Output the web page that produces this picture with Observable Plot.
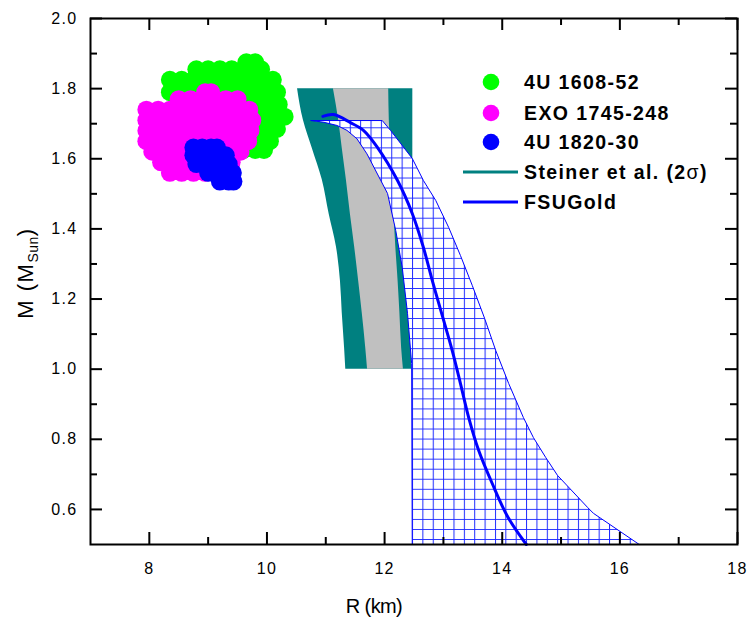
<!DOCTYPE html>
<html><head><meta charset="utf-8">
<script src="https://cdn.jsdelivr.net/npm/d3@7"></script>
<script src="https://cdn.jsdelivr.net/npm/@observablehq/plot@0.6"></script>
<style>
html,body{margin:0;padding:0;background:#fff;}
#chart svg{display:block;}
#chart svg text{letter-spacing:1.3px;}
</style></head><body><div id="chart"></div>
<script>
// ---- axis ticks ----
const xTicks = [8, 10, 12, 14, 16, 18];
const xMinor = [9, 11, 13, 15, 17];
const yTicks = [0.6, 0.8, 1.0, 1.2, 1.4, 1.6, 1.8, 2.0];
const yMinor = [0.7, 0.9, 1.1, 1.3, 1.5, 1.7, 1.9];

// ---- observed sources (rows of point centers: M, list of R) ----
const src1608Rows = [
  {M: 1.875, R: [9.65, 9.8]},
  {M: 1.855, R: [8.8, 9.0, 9.2, 9.4, 9.6, 9.8, 9.9]},
  {M: 1.825, R: [8.35, 8.55, 8.75, 8.95, 9.15, 9.35, 9.55, 9.75, 9.95, 10.1]},
  {M: 1.79,  R: [8.35, 8.55, 8.75, 8.95, 9.15, 9.35, 9.55, 9.75, 9.95, 10.17]},
  {M: 1.755, R: [9.0, 9.2, 9.4, 9.6, 9.8, 10.0, 10.2]},
  {M: 1.72,  R: [9.4, 9.6, 9.8, 10.0, 10.2, 10.3]},
  {M: 1.685, R: [9.5, 9.7, 9.9, 10.05, 10.17]},
  {M: 1.65,  R: [9.5, 9.7, 9.9, 10.05]},
  {M: 1.625, R: [9.6, 9.8, 9.95]}
];
const src1745Rows = [
  {M: 1.79, R: [8.95, 9.05]},
  {M: 1.77, R: [8.5, 8.7, 8.9, 9.1, 9.3, 9.5]},
  {M: 1.74, R: [7.95, 8.15, 8.35, 8.55, 8.75, 8.95, 9.15, 9.35, 9.55, 9.7]},
  {M: 1.71, R: [7.95, 8.15, 8.35, 8.55, 8.75, 8.95, 9.15, 9.35, 9.55, 9.75]},
  {M: 1.68, R: [7.95, 8.15, 8.35, 8.55, 8.75, 8.95, 9.15, 9.35, 9.55, 9.72]},
  {M: 1.65, R: [7.95, 8.15, 8.35, 8.55, 8.75, 8.95, 9.15, 9.35, 9.55, 9.68]},
  {M: 1.62, R: [8.05, 8.25, 8.45, 8.65, 8.85, 9.05, 9.25, 9.45, 9.55]},
  {M: 1.59, R: [8.2, 8.4, 8.6, 8.8, 9.0, 9.2, 9.4]},
  {M: 1.56, R: [8.35, 8.55, 8.75, 8.95]}
];
const src1820Rows = [
  {M: 1.632, R: [8.75, 8.9, 9.05, 9.15]},
  {M: 1.61,  R: [8.75, 8.9, 9.05, 9.2, 9.3]},
  {M: 1.585, R: [8.8, 8.95, 9.1, 9.25, 9.35]},
  {M: 1.56,  R: [9.0, 9.15, 9.3, 9.42]},
  {M: 1.535, R: [9.2, 9.35, 9.43]}
];

// ---- Steiner et al. band (2 sigma outer, inner gray) ----
const steinerM      = [1.8, 1.71, 1.63, 1.54, 1.44, 1.35, 1.25, 1.16, 1.06, 1.0];
const steinerOuterL = [10.52, 10.62, 10.77, 10.94, 11.06, 11.18, 11.25, 11.28, 11.32, 11.34];
const steinerOuterR = [12.48, 12.48, 12.48, 12.48, 12.47, 12.47, 12.47, 12.46, 12.46, 12.46];
const steinerInnerL = [11.13, 11.22, 11.28, 11.35, 11.42, 11.49, 11.56, 11.62, 11.68, 11.71];
const steinerInnerR = [12.07, 12.08, 12.10, 12.12, 12.16, 12.19, 12.23, 12.26, 12.29, 12.32];

// ---- FSUGold uncertainty region (outline) ----
const bandRightR = [10.75, 11.96, 12.10, 12.47, 12.66, 12.87, 13.09, 13.29, 13.49, 13.70, 13.89, 14.11, 14.36, 14.53, 14.74, 14.94, 15.45, 15.55, 16.33];
const bandRightM = [1.709, 1.709, 1.681, 1.601, 1.538, 1.481, 1.404, 1.324, 1.239, 1.145, 1.053, 0.959, 0.862, 0.805, 0.748, 0.697, 0.606, 0.589, 0.5];
const bandLeftR  = [12.47, 12.46, 12.39, 12.30, 12.19, 12.05, 11.70, 11.53, 11.36, 11.19, 10.97, 10.75];
const bandLeftM  = [0.5, 1.016, 1.159, 1.290, 1.395, 1.501, 1.614, 1.657, 1.681, 1.695, 1.704, 1.709];

// ---- FSUGold mass-radius curve ----
const fsuR = [10.95, 11.13, 11.42, 11.64, 11.88, 12.22, 12.47, 12.66, 12.81, 12.97, 13.15, 13.29, 13.43, 13.60, 13.83, 14.10, 14.41];
const fsuM = [1.721, 1.726, 1.703, 1.681, 1.632, 1.538, 1.444, 1.347, 1.253, 1.159, 1.053, 0.959, 0.862, 0.768, 0.674, 0.577, 0.5];

// ---- legend ----
const legendDots = [
  {label: "4U 1608-52", color: "#00ff00"},
  {label: "EXO 1745-248", color: "#ff00ff"},
  {label: "4U 1820-30", color: "#0000ff"}
];
const legendLines = [
  {label: "Steiner et al. (2", sym: "σ", tail: ")", color: "#008080"},
  {label: "FSUGold", sym: "", tail: "", color: "#0000ff"}
];

// ---- build tables ----
const rowsToPts = rows => rows.flatMap(r => r.R.map(R => ({R, M: r.M})));
const pts1608 = rowsToPts(src1608Rows);
const pts1745 = rowsToPts(src1745Rows);
const pts1820 = rowsToPts(src1820Rows);
const steiner = steinerM.map((M, i) => ({M, oL: steinerOuterL[i], oR: steinerOuterR[i], iL: steinerInnerL[i], iR: steinerInnerR[i]}));
const bandPoly = bandRightR.map((R, i) => ({R, M: bandRightM[i]}))
  .concat(bandLeftR.map((R, i) => ({R, M: bandLeftM[i]})));
const fsu = fsuR.map((R, i) => ({R, M: fsuM[i]}));

const W = 750, H = 620, mL = 90, mR = 13, mT = 18, mB = 76;
const pw = W - mL - mR, ph = H - mT - mB;
const font = "'Liberation Sans', Arial, Helvetica, sans-serif";

const svg = Plot.plot({
  width: W, height: H,
  marginLeft: mL, marginRight: mR, marginTop: mT, marginBottom: mB,
  style: {fontFamily: font, background: "#fff", color: "#000"},
  x: {domain: [7, 18], axis: null},
  y: {domain: [0.5, 2.0], axis: null},
  marks: [
    Plot.dot(pts1608, {x: "R", y: "M", r: 9, fill: "#00ff00", stroke: "none"}),
    Plot.dot(pts1745, {x: "R", y: "M", r: 9, fill: "#ff00ff", stroke: "none"}),
    Plot.dot(pts1820, {x: "R", y: "M", r: 9, fill: "#0000ff", stroke: "none"}),
    Plot.areaX(steiner, {y: "M", x1: "oL", x2: "oR", fill: "#008080", curve: "monotone-y"}),
    Plot.areaX(steiner, {y: "M", x1: "iL", x2: "iR", fill: "#c0c0c0", curve: "monotone-y"}),
    Plot.line(bandPoly, {x: "R", y: "M", fill: "url(#fsuGrid)", stroke: "#0000ff", strokeWidth: 1, curve: "linear-closed"}),
    Plot.line(fsu, {x: "R", y: "M", stroke: "#0000ff", strokeWidth: 3, curve: "catmull-rom"}),
    Plot.frame({stroke: "#000", strokeWidth: 2}),
    // inward ticks, bottom & top
    Plot.tickX(xTicks, {x: d => d, insetTop: ph - 12, stroke: "#000", strokeWidth: 2}),
    Plot.tickX(xMinor, {x: d => d, insetTop: ph - 7, stroke: "#000", strokeWidth: 2}),
    Plot.tickX(xTicks, {x: d => d, insetBottom: ph - 12, stroke: "#000", strokeWidth: 2}),
    Plot.tickX(xMinor, {x: d => d, insetBottom: ph - 7, stroke: "#000", strokeWidth: 2}),
    // inward ticks, left & right
    Plot.tickY(yTicks, {y: d => d, insetRight: pw - 12, stroke: "#000", strokeWidth: 2}),
    Plot.tickY(yMinor, {y: d => d, insetRight: pw - 7, stroke: "#000", strokeWidth: 2}),
    Plot.tickY(yTicks, {y: d => d, insetLeft: pw - 12, stroke: "#000", strokeWidth: 2}),
    Plot.tickY(yMinor, {y: d => d, insetLeft: pw - 7, stroke: "#000", strokeWidth: 2}),
    // tick labels
    Plot.text(xTicks, {x: d => d, frameAnchor: "bottom", dy: 29, text: d => String(d), fontSize: 16, fill: "#000"}),
    Plot.text(yTicks, {y: d => d, frameAnchor: "left", dx: -13, textAnchor: "end", text: d => d.toFixed(1), fontSize: 16, fill: "#000"})
  ]
});

const s = d3.select(svg);
// hatch pattern for FSUGold region
const defs = s.insert("defs", ":first-child");
const pat = defs.append("pattern").attr("id", "fsuGrid")
  .attr("patternUnits", "userSpaceOnUse")
  .attr("width", 10.37).attr("height", 10.04)
  .attr("x", 411.5).attr("y", 538.5);
pat.append("rect").attr("width", 10.37).attr("height", 10.04).attr("fill", "#fff");
pat.append("path").attr("d", "M0.5,0V10.04M0,0.5H10.37")
  .attr("stroke", "#1f2bff").attr("stroke-width", 1).attr("fill", "none");

// x-axis title
s.append("text").attr("x", 374).attr("y", 613).attr("text-anchor", "middle")
  .style("font-family", font).style("font-size", "20px").style("letter-spacing", "-0.6px")
  .attr("fill", "#000").text("R (km)");

// y-axis title with subscript
const yt = s.append("text")
  .attr("transform", "translate(33,273) rotate(-90)")
  .attr("text-anchor", "middle")
  .style("font-family", font).style("font-size", "22px").style("letter-spacing", "1.5px")
  .attr("fill", "#000");
yt.append("tspan").text("M (M");
yt.append("tspan").attr("dy", 5).style("font-size", "14px").style("letter-spacing", "0.5px").text("Sun");
yt.append("tspan").attr("dy", -5).text(")");

// legend
const lg = s.append("g").attr("text-anchor", "start")
  .style("font-family", font).style("font-weight", "bold").style("font-size", "19.5px");
const dotY = [82, 113, 142];
legendDots.forEach((d, i) => {
  lg.append("circle").attr("cx", 491).attr("cy", dotY[i]).attr("r", 8.3).attr("fill", d.color);
  lg.append("text").attr("x", 524).attr("y", dotY[i]).attr("dy", "0.35em").attr("text-anchor", "start")
    .style("letter-spacing", "1.4px").attr("fill", "#000").text(d.label);
});
const lineY = [172, 202];
legendLines.forEach((d, i) => {
  lg.append("line").attr("x1", 463).attr("x2", 518).attr("y1", lineY[i]).attr("y2", lineY[i])
    .attr("stroke", d.color).attr("stroke-width", 3);
  const t = lg.append("text").attr("x", 524).attr("y", lineY[i]).attr("dy", "0.35em").attr("text-anchor", "start")
    .style("letter-spacing", "1.4px").attr("fill", "#000");
  t.append("tspan").text(d.label);
  if (d.sym) t.append("tspan").style("font-weight", "normal").text(d.sym);
  if (d.tail) t.append("tspan").text(d.tail);
});

document.getElementById("chart").appendChild(svg);
</script>
</body></html>
